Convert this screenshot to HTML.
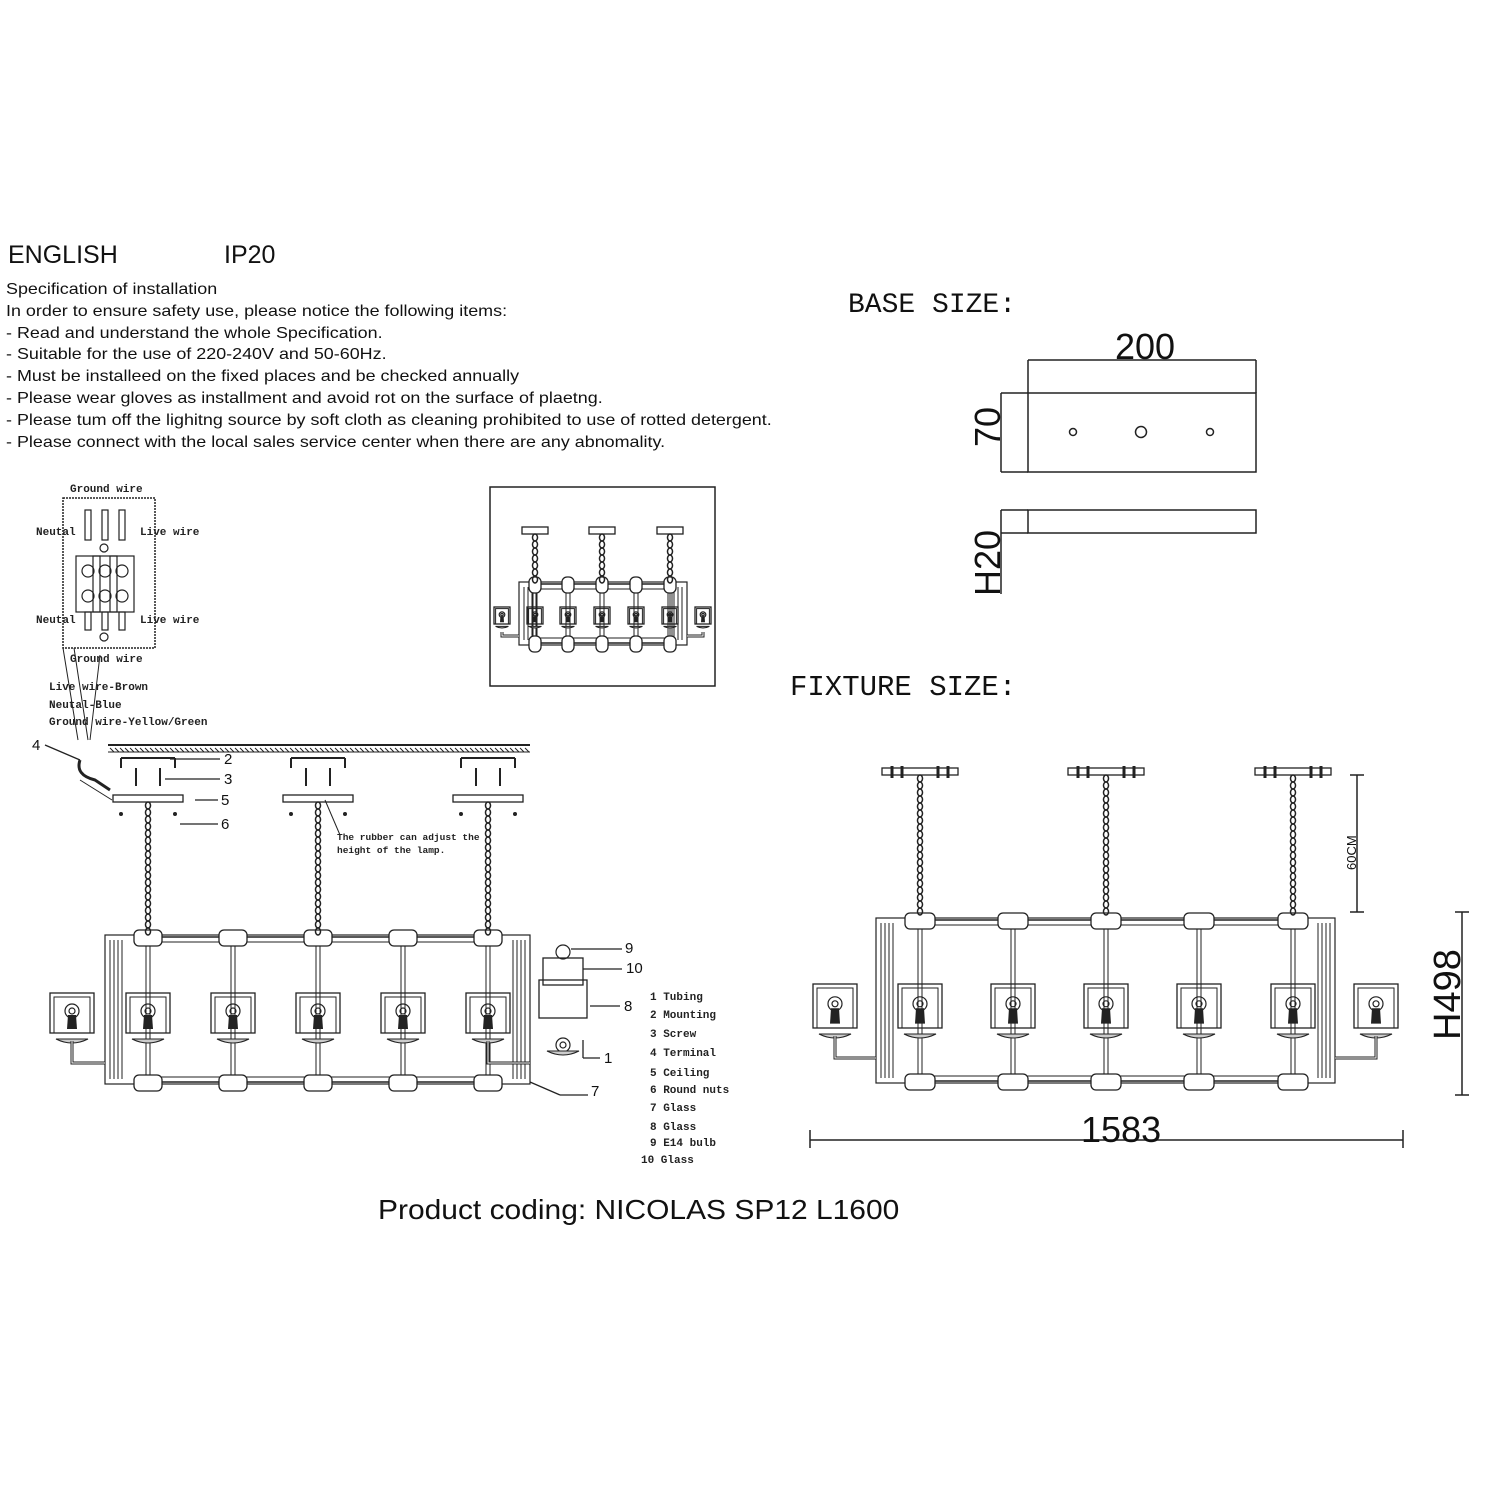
<!DOCTYPE html>
<html><head><meta charset="utf-8"><style>
html,body{margin:0;padding:0;background:#fff}
body{width:1500px;height:1500px;position:relative;overflow:hidden;font-family:"Liberation Sans",sans-serif;color:#111}
.t{position:absolute;white-space:nowrap}
svg{position:absolute;left:0;top:0}
</style></head><body>
<div class="t" style="left:8px;top:241px;font-size:25px">ENGLISH</div>
<div class="t" style="left:224px;top:241px;font-size:25px">IP20</div>
<div class="t" style="left:6px;top:279px;font-size:16px;line-height:21.8px;transform:scaleX(1.12);transform-origin:0 0">Specification of installation<br>In order to ensure safety use, please notice the following items:<br>- Read and understand the whole Specification.<br>- Suitable for the use of 220-240V and 50-60Hz.<br>- Must be installeed on the fixed places and be checked annually<br>- Please wear gloves as installment and avoid rot on the surface of plaetng.<br>- Please tum off the lighitng source by soft cloth as cleaning prohibited to use of rotted detergent.<br>- Please connect with the local sales service center when there are any abnomality.</div>
<div class="t" style="left:848px;top:290px;font-size:28px;font-family:'Liberation Mono',monospace">BASE SIZE:</div>
<div class="t" style="left:790px;top:671px;font-size:29px;font-family:'Liberation Mono',monospace">FIXTURE SIZE:</div>
<div class="t" style="left:378px;top:1194px;font-size:28px;transform:scaleX(1.07);transform-origin:0 0">Product coding: NICOLAS SP12 L1600</div>
<svg id="s" width="1500" height="1500" viewBox="0 0 1500 1500" font-family="Liberation Mono, monospace">
<g stroke="#222" fill="none" stroke-width="1.5">
<rect x="1028" y="393" width="228" height="79"/>
<circle cx="1073" cy="432" r="3.5"/><circle cx="1141" cy="432" r="5.5"/><circle cx="1210" cy="432" r="3.5"/>
<path d="M1028 360H1256M1028 360V393M1256 360V393M1001 393H1028M1001 472H1028M1001 393V472"/>
<rect x="1028" y="510" width="228" height="23"/>
<path d="M1001 510H1028M1001 533H1028M1001 510V594"/>
<rect x="490" y="487" width="225" height="199"/>
<rect x="63" y="498" width="92" height="150" stroke-dasharray="2 1"/>
<path d="M1357 775V912M1350 775H1364M1350 912H1364M1462 912V1095M1455 912H1469M1455 1095H1469M810 1140H1403M810 1130V1148M1403 1130V1148"/>
</g>
<g font-size="36" fill="#111" font-family="Liberation Sans, sans-serif">
<text x="1115" y="359">200</text>
<text x="1081" y="1142">1583</text>
<text transform="translate(1000 447) rotate(-90)">70</text>
<text transform="translate(1000 596) rotate(-90)">H20</text>
<text transform="translate(1460 1040) rotate(-90)" font-size="38">H498</text>
<text transform="translate(1356 870) rotate(-90)" font-size="13">60CM</text>
</g>
<g id="dyn"></g>
<g font-size="11" fill="#222" font-weight="bold">
<text x="70" y="492">Ground wire</text>
<text x="36" y="535">Neutal</text><text x="140" y="535">Live wire</text>
<text x="36" y="623">Neutal</text><text x="140" y="623">Live wire</text>
<text x="70" y="662">Ground wire</text>
<text x="49" y="690">Live wire-Brown</text>
<text x="49" y="708">Neutal-Blue</text>
<text x="49" y="725">Ground wire-Yellow/Green</text>
<text x="337" y="840" font-size="9.5">The rubber can adjust the</text>
<text x="337" y="853" font-size="9.5">height of the lamp.</text>
<text x="650" y="1000">1 Tubing</text>
<text x="650" y="1018">2 Mounting</text>
<text x="650" y="1037">3 Screw</text>
<text x="650" y="1056">4 Terminal</text>
<text x="650" y="1076">5 Ceiling</text>
<text x="650" y="1093">6 Round nuts</text>
<text x="650" y="1111">7 Glass</text>
<text x="650" y="1130">8 Glass</text>
<text x="650" y="1146">9 E14 bulb</text>
<text x="641" y="1163">10 Glass</text>
</g>
<g font-size="15" fill="#111" font-family="Liberation Sans, sans-serif">
<text x="224" y="764">2</text><text x="224" y="784">3</text><text x="221" y="805">5</text><text x="221" y="829">6</text>
<text x="32" y="750">4</text><text x="625" y="953">9</text><text x="626" y="973">10</text><text x="624" y="1011">8</text>
<text x="604" y="1063">1</text><text x="591" y="1096">7</text>
</g>
</svg>
<script>
var g=document.getElementById('dyn'),h='';
function L(a,b,c,d,w){h+='<line x1="'+a+'" y1="'+b+'" x2="'+c+'" y2="'+d+'" stroke="#222" stroke-width="'+(w||1.3)+'"/>';}
function R(x,y,w,hh,f,sw,rx){h+='<rect x="'+x+'" y="'+y+'" width="'+w+'" height="'+hh+'" fill="'+(f||'none')+'" stroke="#222" stroke-width="'+(sw||1.3)+'" rx="'+(rx||0)+'"/>';}
function C(x,y,r,f){h+='<circle cx="'+x+'" cy="'+y+'" r="'+r+'" fill="'+(f||'none')+'" stroke="#222" stroke-width="1.2"/>';}
function chain(x,y1,y2){for(var y=y1;y<y2;y+=7){h+='<ellipse cx="'+x+'" cy="'+(y+3.5)+'" rx="2.5" ry="3.5" fill="none" stroke="#222" stroke-width="1.5"/>';}}
function lamp(cx,top,w,hh,s){R(cx-w/2,top,w,hh);R(cx-w/2+4*s,top+4*s,w-8*s,hh-4*s,null,1);C(cx,top+hh*0.45,7*s);C(cx,top+hh*0.45,3*s);
 h+='<path d="M'+(cx-4*s)+' '+(top+hh*0.55)+'L'+(cx+4*s)+' '+(top+hh*0.55)+'L'+(cx+5*s)+' '+(top+hh*0.9)+'L'+(cx-5*s)+' '+(top+hh*0.9)+'Z" fill="#222"/>';
 h+='<path d="M'+(cx-16*s)+' '+(top+hh+6*s)+'Q'+cx+' '+(top+hh+14*s)+' '+(cx+16*s)+' '+(top+hh+6*s)+'Z" fill="#ccc" stroke="#222"/>';}
function fixture(o){var c=o.cols,tr=o.top,br=o.bot;
 R(o.fx1,tr-2,o.fx2-o.fx1,br-tr+4,null,1.2);
 for(var i=0;i<4;i++){L(o.fx1+5+i*4,tr+3,o.fx1+5+i*4,br-3,1);L(o.fx2-5-i*4,tr+3,o.fx2-5-i*4,br-3,1);}
 L(c[0],tr,c[c.length-1],tr,1.5);L(c[0],tr+5,c[c.length-1],tr+5,1);L(c[0],br,c[c.length-1],br,1.5);L(c[0],br-5,c[c.length-1],br-5,1);
 c.forEach(function(x){L(x-2,tr,x-2,br,1);L(x+2,tr,x+2,br,1);R(x-o.jw/2,tr-7,o.jw,16,'#fff',1.3,5);R(x-o.jw/2,br-7,o.jw,16,'#fff',1.3,5);});
 o.hang.forEach(function(x){R(x-o.pw/2,o.py,o.pw,7,'#fff');chain(x,o.py+7,tr-7);});
 o.lamps.forEach(function(x){lamp(x,o.lt,o.lw,o.lh,o.s);});
 var a=o.lamps[0],b=o.lamps[o.lamps.length-1],ly=o.lt+o.lh+o.s*30;
 h+='<path d="M'+a+' '+(o.lt+o.lh+8)+'V'+ly+'H'+o.fx1+'M'+b+' '+(o.lt+o.lh+8)+'V'+ly+'H'+o.fx2+'" fill="none" stroke="#222" stroke-width="3"/>';
 h+='<path d="M'+a+' '+(o.lt+o.lh+8)+'V'+ly+'H'+o.fx1+'M'+b+' '+(o.lt+o.lh+8)+'V'+ly+'H'+o.fx2+'" fill="none" stroke="#fff" stroke-width="1"/>';}
fixture({cols:[920,1013,1106,1199,1293],top:920,bot:1081,fx1:876,fx2:1335,jw:30,hang:[920,1106,1293],py:768,pw:76,
 lamps:[835,920,1013,1106,1199,1293,1376],lt:984,lh:44,lw:44,s:1});
fixture({cols:[148,233,318,403,488],top:937,bot:1082,fx1:105,fx2:530,jw:28,hang:[148,318,488],py:795,pw:70,
 lamps:[72,148,233,318,403,488],lt:993,lh:40,lw:44,s:1});
fixture({cols:[535,568,602,636,670],top:584,bot:643,fx1:519,fx2:687,jw:12,hang:[535,602,670],py:527,pw:26,
 lamps:[502,535,568,602,636,670,703],lt:607,lh:17,lw:16,s:0.4});
L(108,745,530,745,2);for(var x=110;x<528;x+=5)L(x,748,x+4,752,1);L(108,752,530,752,1);
[148,318,488].forEach(function(x){L(x-27,758,x+27,758,2);L(x-27,758,x-27,768,2);L(x+27,758,x+27,768,2);L(x-12,768,x-12,786,2);L(x+12,768,x+12,786,2);
 h+='<circle cx="'+(x-27)+'" cy="814" r="2" fill="#222"/><circle cx="'+(x+27)+'" cy="814" r="2" fill="#222"/>';});
[920,1106,1293].forEach(function(x){L(x-28,766,x-28,778,3);L(x-18,766,x-18,778,3);L(x+18,766,x+18,778,3);L(x+28,766,x+28,778,3);});
L(170,759,220,759);L(165,779,220,779);L(195,800,218,800);L(112,800,80,780,1);L(180,824,218,824);L(45,745,80,760);
L(325,800,340,835,1);
C(563,952,7);R(543,958,40,27);R(539,980,48,38);lamp(563,1045,0,0,1);
L(571,949,622,949);L(583,969,622,969);L(590,1006,620,1006);L(583,1040,583,1058);L(583,1058,600,1058);L(530,1082,560,1095);L(560,1095,588,1095);
[88,105,122].forEach(function(x){R(x-3,510,6,30,null,1.2);R(x-12,556,24,56,null,1.2);C(x,571,6);C(x,596,6);R(x-3,612,6,18,null,1.2);});
C(104,548,4);C(104,637,4);
h+='<path d="M63 648L78 740M74 648L88 740M100 655L90 740" stroke="#222" fill="none"/>';
h+='<path d="M80 760Q75 775 95 780L110 790" stroke="#222" stroke-width="3" fill="none"/>';
g.innerHTML=h;
</script>
</body></html>
